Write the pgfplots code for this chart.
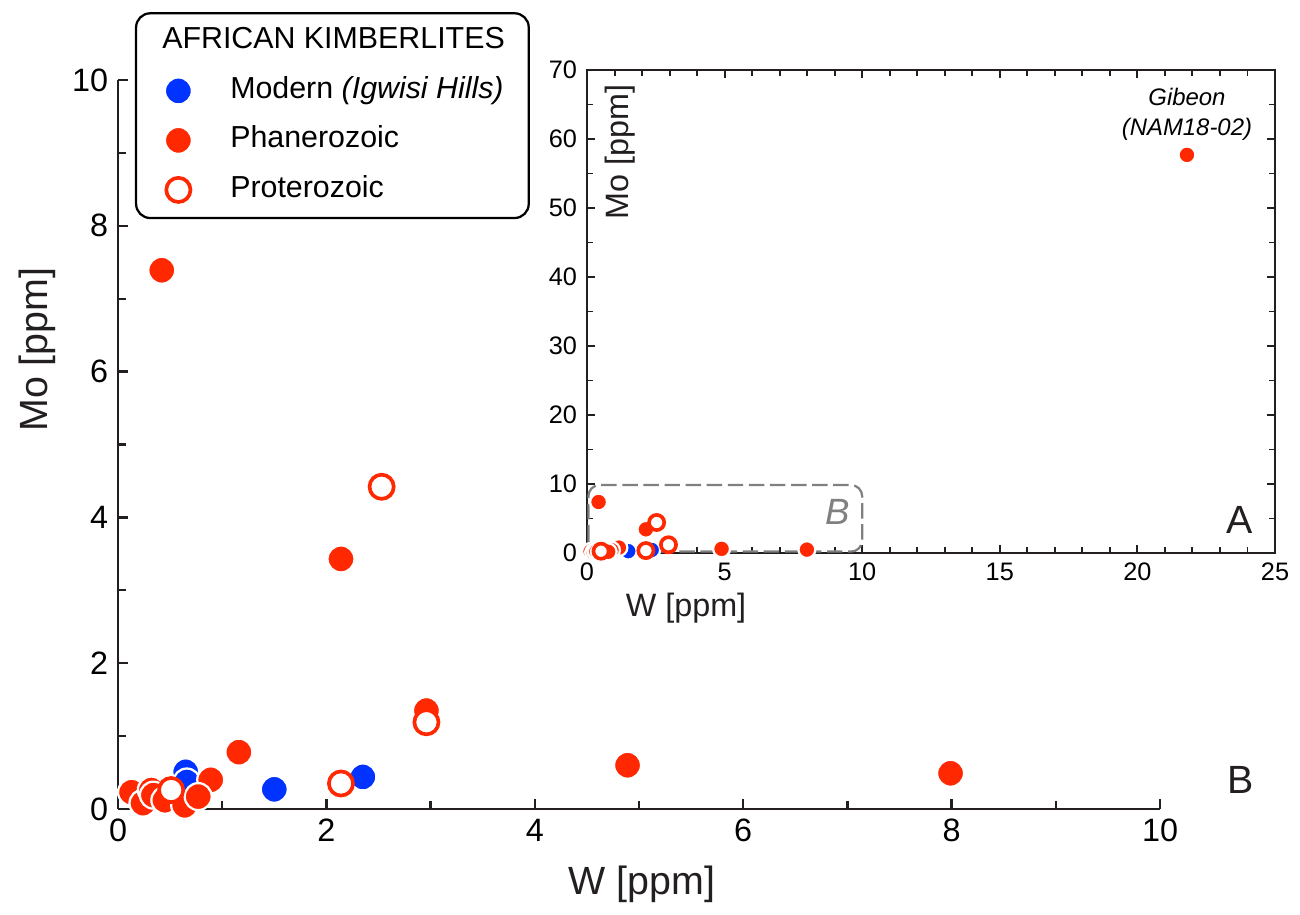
\documentclass[border=0pt]{standalone}
\usepackage{fontspec}
\setmainfont{Liberation Sans}
\usepackage{pgfplots}
\pgfplotsset{compat=1.18}
\definecolor{kred}{RGB}{255,40,0}
\definecolor{kblue}{RGB}{0,51,255}
\definecolor{kink}{RGB}{35,31,32}
\definecolor{boxgray}{RGB}{128,128,128}

\pgfplotsset{
  modern/.style={only marks, mark=*, mark size=#1,
    mark options={fill=kblue, draw=white, line width=0.8pt}},
  phan/.style={only marks, mark=*, mark size=#1,
    mark options={fill=kred, draw=white, line width=0.8pt}},
  prot/.style={only marks, mark=*, mark size=#1,
    mark options={fill=white, draw=kred, line width=1.3pt}},
}

\begin{document}
\begin{tikzpicture}
\useasboundingbox (-1.475,-1.325) rectangle (14.775,10.1125);

% main panel B
\begin{axis}[
  at={(0,0)}, anchor=south west,
  scale only axis, width=13.025cm, height=9.1125cm,
  xmin=0, xmax=10, ymin=0, ymax=10,
  axis lines*=left,
  axis line style={kink, line width=0.8pt},
  xtick={0,2,...,10}, ytick={0,2,...,10},
  minor xtick={1,3,...,9}, minor ytick={1,3,...,9},
  tick align=inside,
  major tick length=0.12cm, minor tick length=0.1cm,
  tick style={kink, line width=0.8pt},
  /pgf/number format/assume math mode=true,
  tick label style={font=\fontsize{11.5}{13}\selectfont},
  xlabel={W [ppm]}, ylabel={Mo [ppm]},
  label style={font=\fontsize{14}{16}\selectfont, text=kink},
  xlabel style={at={(axis description cs:0.503,-0.104)}, anchor=center},
  ylabel style={at={(axis description cs:-0.077,0.63)}, anchor=center},
  clip=false,
  legend cell align=left,
  legend style={at={(axis description cs:0.0163,1.093)}, anchor=north west,
    draw=black, line width=0.8pt, rounded corners=5pt,
    font=\fontsize{10.8}{12}\selectfont,
    inner xsep=6.5pt, inner ysep=3pt, row sep=3.6pt,
    nodes={text height=7.6pt, text depth=2.4pt},
    /tikz/every odd column/.append style={column sep=0.41cm}},
]
\addlegendimage{empty legend}
\addlegendentry{\hspace*{-0.85cm}AFRICAN KIMBERLITES}
\addplot[modern=4.8pt] coordinates {
  (0.65,0.51) (0.66,0.37) (1.50,0.27) (2.35,0.44)
};
\addlegendentry{Modern \textit{(Igwisi Hills)}}
\addplot[phan=4.8pt] coordinates {
  (0.42,7.39) (2.14,3.43) (2.96,1.35) (4.89,0.60) (7.99,0.49)
  (1.16,0.78) (0.89,0.40) (0.13,0.23) (0.24,0.08) (0.32,0.26)
  (0.34,0.19) (0.45,0.12) (0.64,0.05) (0.77,0.17)
};
\addlegendentry{Phanerozoic}
\addplot[prot=4.3pt] coordinates {
  (0.51,0.26) (2.14,0.35) (2.53,4.42) (2.96,1.19)
};
\addlegendentry{Proterozoic}
\node[font=\fontsize{14}{16}\selectfont, text=kink] at (axis description cs:1.077,0.04) {B};
\end{axis}

% inset panel A
\begin{axis}[
  at={(5.8625cm,3.2cm)}, anchor=south west,
  scale only axis, width=8.6cm, height=6.0375cm,
  xmin=0, xmax=25, ymin=0, ymax=70,
  axis background/.style={fill=white},
  axis line style={kink, line width=0.8pt},
  xtick={0,5,...,25}, ytick={0,10,...,70},
  minor x tick num=4, minor y tick num=1,
  tick align=inside,
  major tick length=0.1cm, minor tick length=0.08cm,
  tick style={kink, line width=0.7pt},
  /pgf/number format/assume math mode=true,
  tick label style={font=\fontsize{9}{10}\selectfont},
  xlabel={W [ppm]}, ylabel={Mo [ppm]},
  label style={font=\fontsize{11.5}{13}\selectfont, text=kink},
  xlabel style={at={(axis description cs:0.144,-0.114)}, anchor=center},
  ylabel style={at={(axis description cs:0.048,0.83)}, anchor=center},
  clip=false,
]
\draw[boxgray, line width=0.8pt, dash pattern=on 5.5pt off 2pt, rounded corners=4pt]
  (axis cs:0.05,0.2) rectangle (axis cs:10,9.85);
\node[font=\fontsize{13}{15}\selectfont\itshape, text=boxgray] at (axis cs:9.12,5.94) {B};
\addplot[modern=3pt] coordinates {
  (0.65,0.51) (0.66,0.37) (1.50,0.27) (2.35,0.44)
};
\addplot[phan=3pt] coordinates {
  (0.42,7.39) (2.14,3.43) (2.96,1.35) (4.89,0.60) (7.99,0.49)
  (1.16,0.78) (0.89,0.40) (0.13,0.23) (0.24,0.08) (0.32,0.26)
  (0.34,0.19) (0.45,0.12) (0.64,0.05) (0.77,0.17) (21.8,57.7)
};
\addplot[prot=2.7pt] coordinates {
  (0.51,0.26) (2.14,0.35) (2.53,4.42) (2.96,1.19)
};
\node[font=\fontsize{8.5}{10.5}\selectfont\itshape, align=center] at (axis cs:21.8,63.6) {Gibeon\\(NAM18-02)};
\node[font=\fontsize{14}{16}\selectfont, text=kink] at (axis description cs:0.949,0.068) {A};
\end{axis}
\end{tikzpicture}
\end{document}
